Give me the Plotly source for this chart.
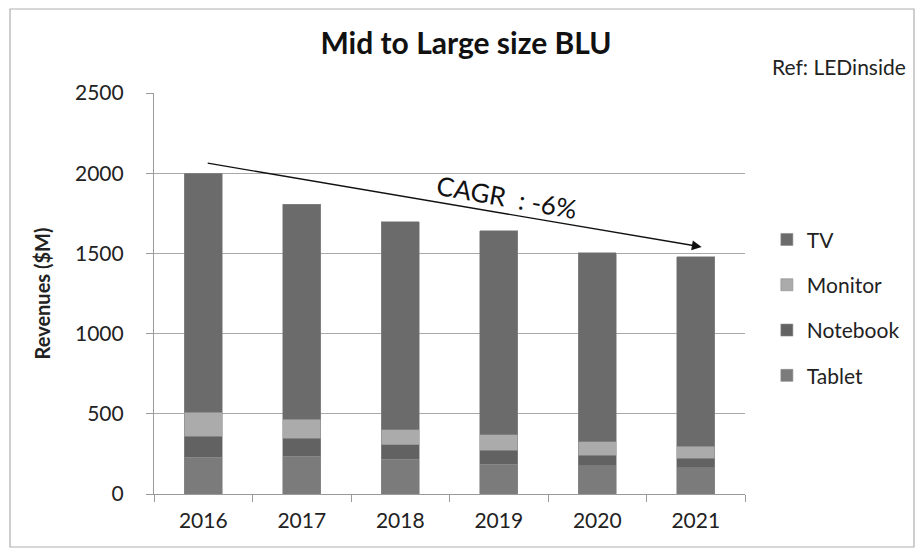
import plotly.graph_objects as go

years = ["2016", "2017", "2018", "2019", "2020", "2021"]
tablet = [228, 234, 218, 187, 175, 164]
notebook = [131, 113, 89, 87, 68, 58]
monitor = [152, 120, 94, 94, 83, 77]
tv = [1489, 1338, 1295, 1272, 1179, 1181]
y_ticks = [0, 500, 1000, 1500, 2000, 2500]

series = [
    ("Tablet", tablet, "#7b7b7b", 4),
    ("Notebook", notebook, "#626262", 3),
    ("Monitor", monitor, "#ababab", 2),
    ("TV", tv, "#6b6b6b", 1),
]

FONT = "Lato, 'Open Sans', sans-serif"
OFF = 8  # browser body margin

fig = go.Figure()
for name, vals, col, rank in series:
    fig.add_trace(go.Bar(
        x=years, y=vals, name=name, legendgroup=name, legendrank=rank,
        marker=dict(color=col, line=dict(width=0.6, color="#8a8a8a")),
    ))

fig.update_layout(
    barmode="stack",
    bargap=0.61,
    width=923, height=554,
    paper_bgcolor="white", plot_bgcolor="white",
    margin=dict(l=154 - OFF, r=923 - (745 - OFF), t=93 - OFF, b=554 - (494 - OFF)),
    font=dict(family=FONT, size=21, color="#222"),
    title=dict(text="<b>Mid to Large size BLU</b>", x=(466 - OFF) / 923, xanchor="center",
               y=1 - (43 - OFF) / 554, yanchor="middle", font=dict(size=30, color="#111")),
    legend=dict(x=1.037, y=0.685, xanchor="left", yanchor="top",
                traceorder="grouped", tracegroupgap=15,
                font=dict(size=21, color="#222"), itemwidth=30,
                bgcolor="rgba(0,0,0,0)"),
    showlegend=True,
)

fig.update_xaxes(
    type="category", showline=True, linecolor="#9a9a9a", linewidth=1.2,
    ticks="outside", tickson="boundaries", ticklen=7, tickcolor="#9a9a9a",
    tickfont=dict(size=21), showgrid=False, ticklabelstandoff=8,
)
fig.update_yaxes(
    range=[0, 2500], tickvals=y_ticks, ticktext=[str(v) for v in y_ticks],
    showline=True, linecolor="#9a9a9a", linewidth=1.2,
    ticks="outside", ticklen=7, tickcolor="#9a9a9a",
    showgrid=True, gridcolor="#a8a8a8", gridwidth=1.2,
    tickfont=dict(size=21), ticklabelstandoff=18,
    title=dict(text="<b>Revenues ($M)</b>", font=dict(size=20), standoff=18),
    zeroline=False,
)

# CAGR arrow
fig.add_annotation(
    x=5.06, y=1540, ax=0.03, ay=2064, xref="x", yref="y", axref="x", ayref="y",
    text="", showarrow=True, arrowhead=2, arrowsize=1.4, arrowwidth=1.4,
    arrowcolor="#111",
)
fig.add_annotation(
    x=3.08, y=1851, xref="x", yref="y", text="CAGR  : -6%", showarrow=False,
    textangle=10, font=dict(size=26, color="#111"),
)
fig.add_annotation(
    x=(908 - 154) / 591, y=(494 - 66) / 401, xref="paper", yref="paper",
    xanchor="right", yanchor="middle",
    text="Ref: LEDinside", showarrow=False, font=dict(size=21, color="#222"),
)
# outer border
fig.add_shape(
    type="rect", xref="paper", yref="paper",
    x0=(10 - 154) / 591, x1=(914 - 154) / 591,
    y0=(494 - 547) / 401, y1=(494 - 9) / 401,
    line=dict(color="#b0b0b0", width=1.2), fillcolor="rgba(0,0,0,0)", layer="below",
)

fig.write_html("out.html")
